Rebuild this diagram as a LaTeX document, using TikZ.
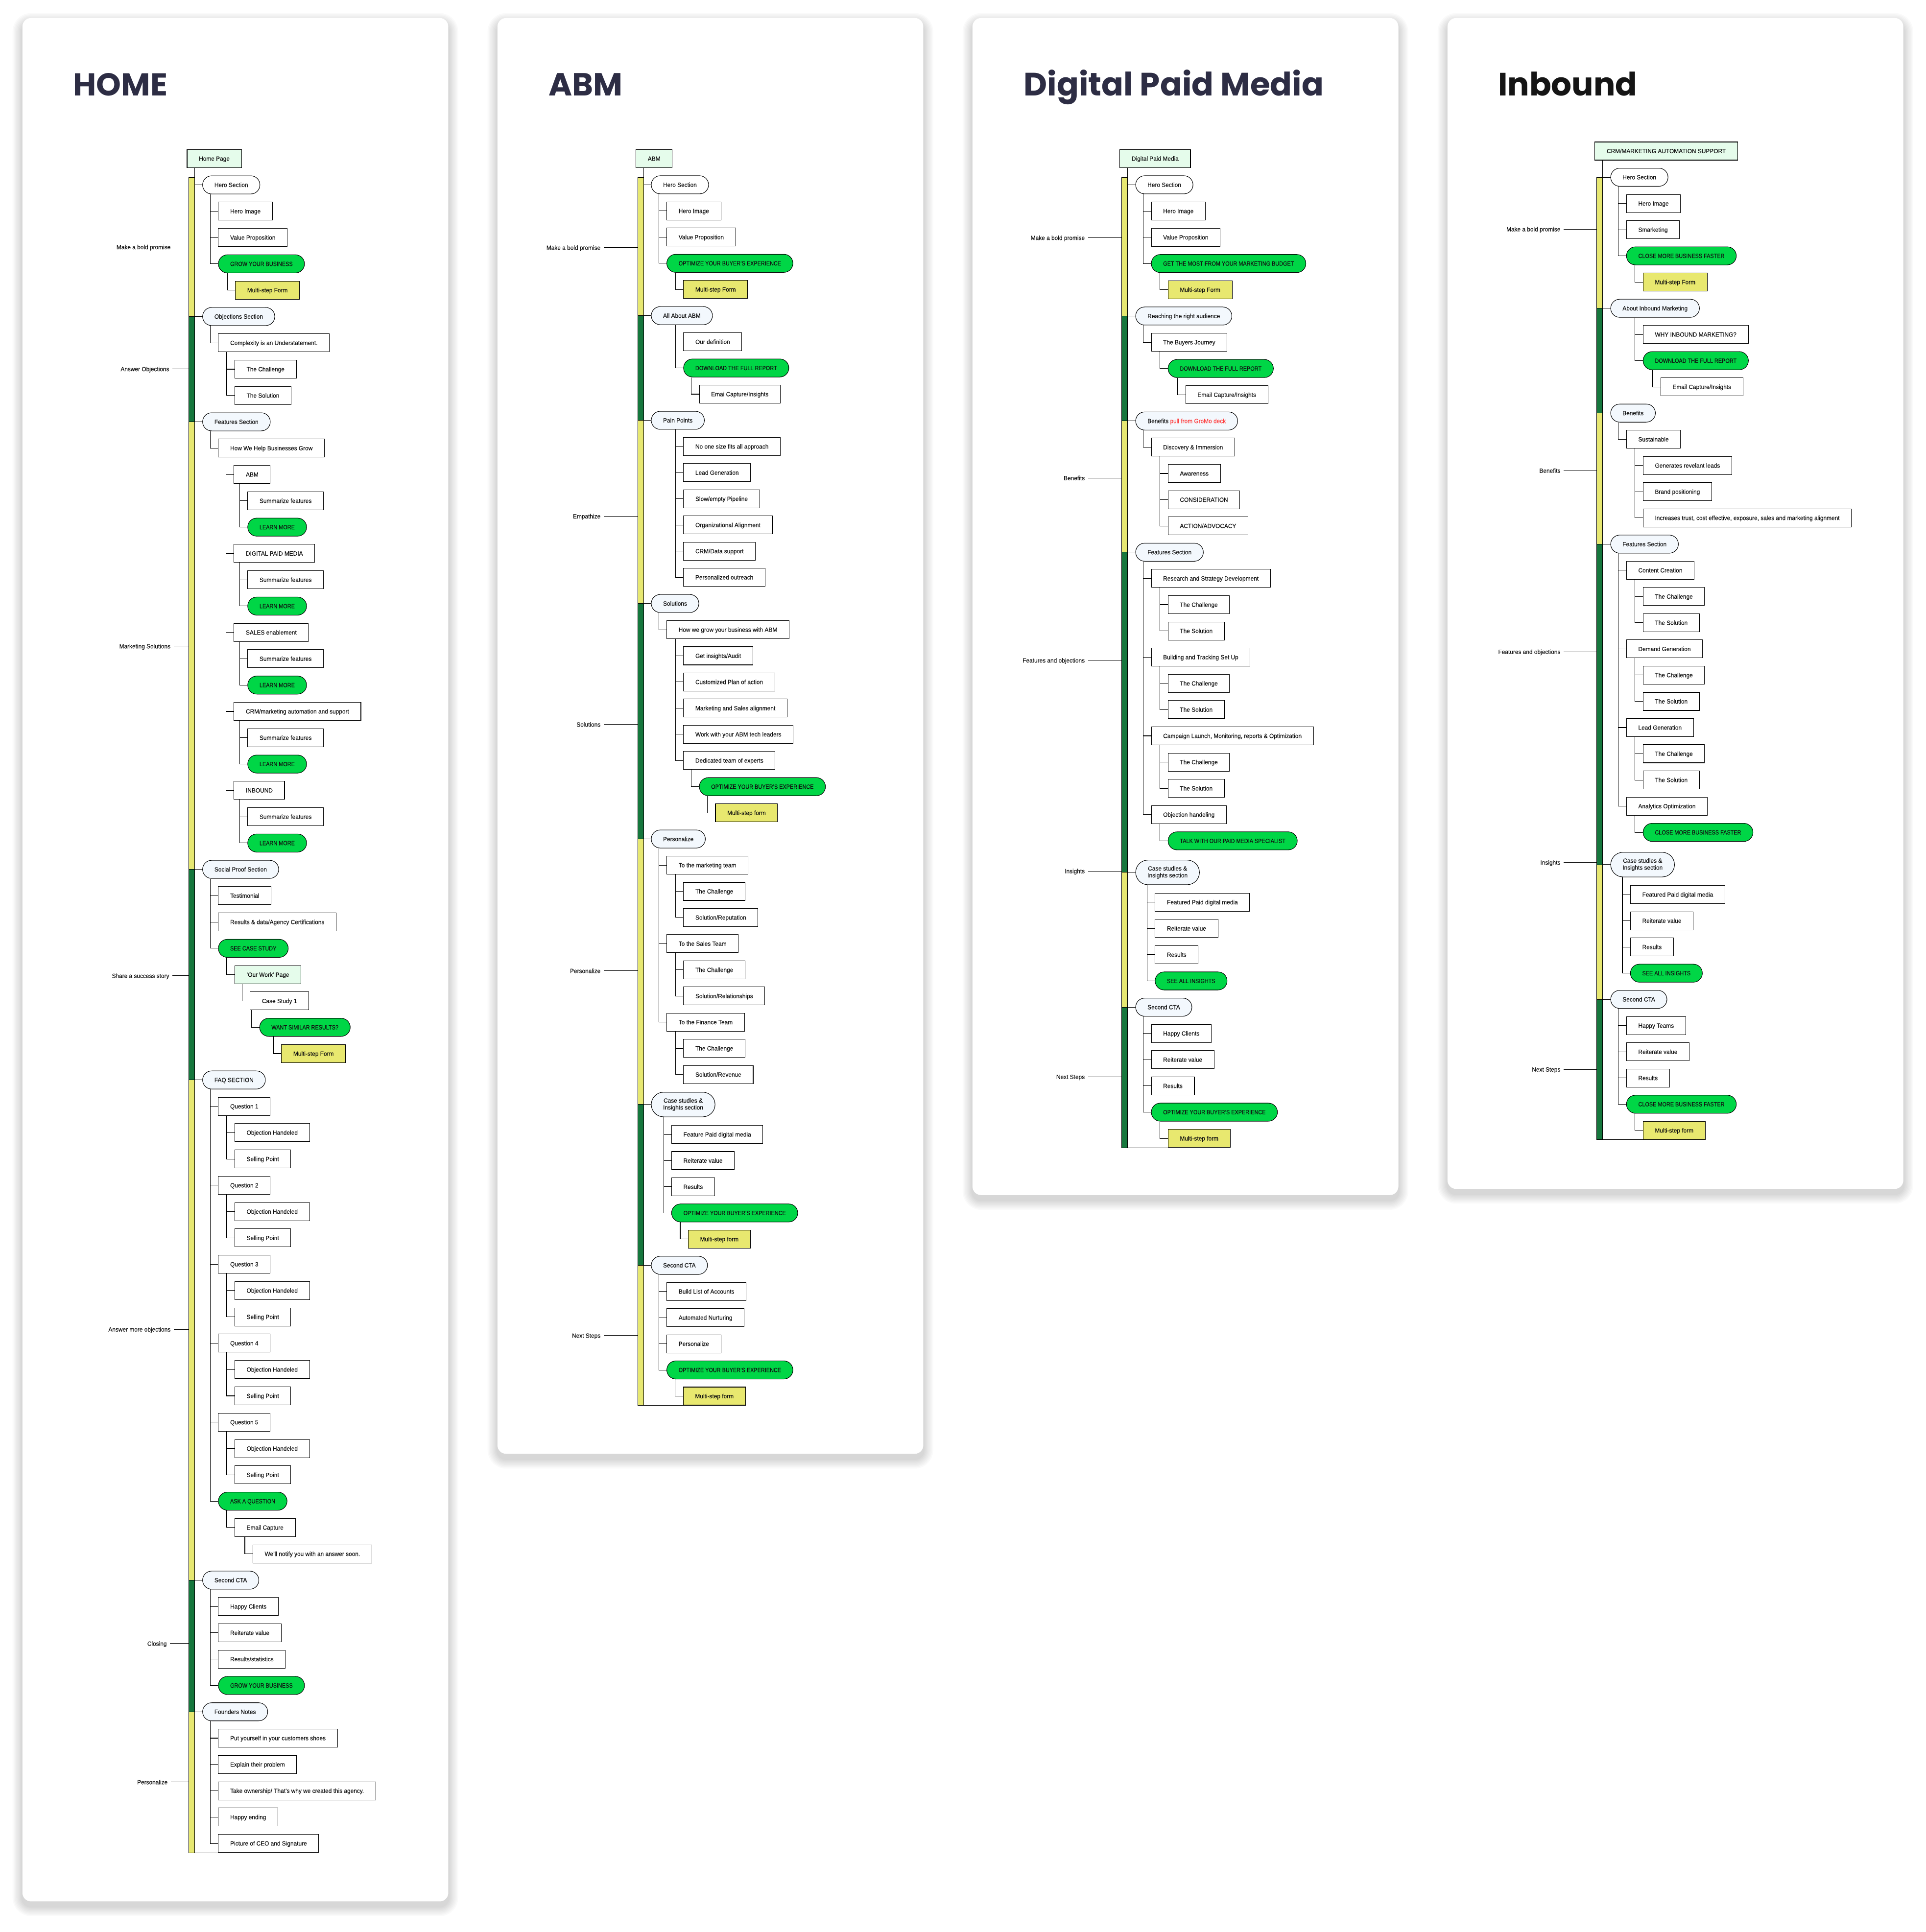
\documentclass[tikz,border=0pt]{standalone}
\usepackage{fontspec}
\usepackage{graphicx}
\usetikzlibrary{calc}
\newfontfamily\nodefont{Liberation Sans}[FakeStretch=0.945,FakeBold=0.25]
\newfontfamily\ctafont{Liberation Sans}[FakeStretch=0.865,FakeBold=0.25]
\newfontfamily\titlefont{Poppins}
\newcommand\nodesize{\nodefont\fontsize{5}{5.6}\selectfont}
\newcommand\ctasize{\ctafont\fontsize{5}{5.6}\selectfont}
\definecolor{navy}{HTML}{2D2D44}
\definecolor{ink}{HTML}{151515}
\definecolor{barY}{HTML}{E7E872}
\definecolor{barG}{HTML}{16773D}
\definecolor{ctaG}{HTML}{00D646}
\definecolor{formY}{HTML}{E8E86F}
\definecolor{mint}{HTML}{E5FCEB}
\definecolor{secF}{HTML}{F3F8FD}
\definecolor{redT}{HTML}{FF3B3B}
\definecolor{txt}{HTML}{111111}
\tikzset{
  ln/.style={draw=black, line width=0.42pt},
  nb/.style={draw=black, line width=0.42pt, font=\nodesize, text=txt, inner xsep=9.6pt, inner ysep=0pt, minimum height=14.7pt, text height=3.6pt, text depth=0.1pt, anchor=west},
  box/.style={nb, fill=white},
  rootbox/.style={nb, fill=mint},
  mintbox/.style={nb, fill=mint},
  secw/.style={nb, fill=white, rounded corners=7.35pt},
  sec/.style={nb, fill=secF, rounded corners=7.35pt},
  sectwo/.style={draw=black, line width=0.42pt, font=\nodesize, text=txt, fill=secF, rounded corners=10pt, minimum height=20pt, inner xsep=9.6pt, inner ysep=0pt, align=center, anchor=west},
  cta/.style={nb, font=\ctasize, fill=ctaG, rounded corners=7.35pt},
  form/.style={nb, fill=formY},
  lab/.style={font=\nodesize, text=txt, inner sep=0pt, text height=3.6pt, text depth=0pt, anchor=east},
  bs/.style={draw=black, line width=0.35pt},
  shade/.style={fill=black, opacity=0.02},
  ttl/.style={anchor=base west, inner sep=0pt},
}
\newcommand\N[5]{\node[#1] (#2) at (#3,{\Y+(#4)*\P}) {#5};}
\newcommand\C[2]{\draw[ln] let \p1=(#1.south west),\p2=(#2.west) in ({\x2-6.3pt},\y1) |- (#2.west);}
\newcommand\Stub[2]{\draw[ln] (#1 |- #2.west) -- (#2.west);}
\newcommand\Lab[5]{\node[lab] (#1) at (#2,#3) {#4}; \draw[ln] (#1.east) ++(2.5pt,0) -- (#5 |- #1.east);}
\newcommand\Card[4]{%
  \foreach \k in {1,...,8}{%
    \pgfmathsetmacro\rc{7+\k}%
    \fill[shade, rounded corners=\rc pt] ({#1-\k},{#2-\k+4}) rectangle ({#3+\k},{#4+\k+4});}
  \fill[white, rounded corners=7pt] (#1,#2) rectangle (#3,#4);}
\begin{document}
\begin{tikzpicture}[x=1pt,y=-1pt]
\useasboundingbox (0,0) rectangle (1563,1568.17);
\fill[white] (0,0) rectangle (1563,1568.17);
% cards
\Card{18.2}{14.6}{363.8}{1543.3}
\Card{403.7}{14.6}{749.3}{1180}
\Card{789.2}{14.6}{1134.8}{970}
\Card{1174.7}{14.6}{1544.6}{965}
% titles
\node[ttl, text=navy] (tH) at (59.3,77.5) {\resizebox{76.4pt}{!}{\titlefont\bfseries\fontsize{27}{30}\selectfont HOME}};
\node[ttl, text=navy] (tA) at (445,77.5) {\resizebox{60pt}{!}{\titlefont\bfseries\fontsize{27}{30}\selectfont ABM}};
\node[ttl, text=navy] (tD) at (830.7,77.5) {\resizebox{243.3pt}{!}{\titlefont\bfseries\fontsize{27}{30}\selectfont Digital Paid Media}};
\node[ttl, text=ink] (tI) at (1215.5,77.5) {\resizebox{113pt}{!}{\titlefont\bfseries\fontsize{27}{30}\selectfont Inbound}};

%================ HOME
\def\Y{128.7}\def\P{21.368}
\coordinate (hT) at (158.0,0);
\coordinate (hB) at (153.1,0);
\N{rootbox}{h0}{151.6}{0}{Home Page}
\N{secw}{h1}{164.2}{1}{Hero Section}
\N{box}{h2}{177.0}{2}{Hero Image}
\N{box}{h3}{177.0}{3}{Value Proposition}
\N{cta}{h4}{177.0}{4}{GROW YOUR BUSINESS}
\N{form}{h5}{190.8}{5}{Multi-step Form}
\N{sec}{h6}{164.2}{6}{Objections Section}
\N{box}{h7}{177.0}{7}{Complexity is an Understatement.}
\N{box}{h8}{190.3}{8}{The Challenge}
\N{box}{h9}{190.3}{9}{The Solution}
\N{sec}{h10}{164.2}{10}{Features Section}
\N{box}{h11}{177.0}{11}{How We Help Businesses Grow}
\N{box}{h12}{189.7}{12}{ABM}
\N{box}{h13}{200.8}{13}{Summarize features}
\N{cta}{h14}{200.8}{14}{LEARN MORE}
\N{box}{h15}{189.7}{15}{DIGITAL PAID MEDIA}
\N{box}{h16}{200.8}{16}{Summarize features}
\N{cta}{h17}{200.8}{17}{LEARN MORE}
\N{box}{h18}{189.7}{18}{SALES enablement}
\N{box}{h19}{200.8}{19}{Summarize features}
\N{cta}{h20}{200.8}{20}{LEARN MORE}
\N{box}{h21}{189.7}{21}{CRM/marketing automation and support}
\N{box}{h22}{200.8}{22}{Summarize features}
\N{cta}{h23}{200.8}{23}{LEARN MORE}
\N{box}{h24}{189.7}{24}{INBOUND}
\N{box}{h25}{200.8}{25}{Summarize features}
\N{cta}{h26}{200.8}{26}{LEARN MORE}
\N{sec}{h27}{164.2}{27}{Social Proof Section}
\N{box}{h28}{177.0}{28}{Testimonial}
\N{box}{h29}{177.0}{29}{Results \& data/Agency Certifications}
\N{cta}{h30}{177.0}{30}{SEE CASE STUDY}
\N{mintbox}{h31}{190.3}{31}{‘Our Work’ Page}
\N{box}{h32}{202.8}{32}{Case Study 1}
\N{cta}{h33}{210.5}{33}{WANT SIMILAR RESULTS?}
\N{form}{h34}{228.2}{34}{Multi-step Form}
\N{sec}{h35}{164.2}{35}{FAQ SECTION}
\N{box}{h36}{177.0}{36}{Question 1}
\N{box}{h37}{190.3}{37}{Objection Handeled}
\N{box}{h38}{190.3}{38}{Selling Point}
\N{box}{h39}{177.0}{39}{Question 2}
\N{box}{h40}{190.3}{40}{Objection Handeled}
\N{box}{h41}{190.3}{41}{Selling Point}
\N{box}{h42}{177.0}{42}{Question 3}
\N{box}{h43}{190.3}{43}{Objection Handeled}
\N{box}{h44}{190.3}{44}{Selling Point}
\N{box}{h45}{177.0}{45}{Question 4}
\N{box}{h46}{190.3}{46}{Objection Handeled}
\N{box}{h47}{190.3}{47}{Selling Point}
\N{box}{h48}{177.0}{48}{Question 5}
\N{box}{h49}{190.3}{49}{Objection Handeled}
\N{box}{h50}{190.3}{50}{Selling Point}
\N{cta}{h51}{177.0}{51}{ASK A QUESTION}
\N{box}{h52}{190.3}{52}{Email Capture}
\N{box}{h53}{205.0}{53}{We’ll notify you with an answer soon.}
\N{sec}{h54}{164.2}{54}{Second CTA}
\N{box}{h55}{177.0}{55}{Happy Clients}
\N{box}{h56}{177.0}{56}{Reiterate value}
\N{box}{h57}{177.0}{57}{Results/statistics}
\N{cta}{h58}{177.0}{58}{GROW YOUR BUSINESS}
\N{sec}{h59}{164.2}{59}{Founders Notes}
\N{box}{h60}{177.0}{60}{Put yourself in your customers shoes}
\N{box}{h61}{177.0}{61}{Explain their problem}
\N{box}{h62}{177.0}{62}{Take ownership/ That’s why we created this agency.}
\N{box}{h63}{177.0}{63}{Happy ending}
\N{box}{h64}{177.0}{64}{Picture of CEO and Signature}
\filldraw[bs,fill=barY] (153.1,144.0) rectangle (hT |- h6.west);
\filldraw[bs,fill=barG] (hB |- h6.west) rectangle (hT |- h10.west);
\filldraw[bs,fill=barY] (hB |- h10.west) rectangle (hT |- h27.west);
\filldraw[bs,fill=barG] (hB |- h27.west) rectangle (hT |- h35.west);
\filldraw[bs,fill=barY] (hB |- h35.west) rectangle (hT |- h54.west);
\filldraw[bs,fill=barG] (hB |- h54.west) rectangle (hT |- h59.west);
\filldraw[bs,fill=barY] (hB |- h59.west) rectangle (hT |- h64.south);
\draw[ln] (hT |- h0.south) -- (hT |- h64.south) -- (h64.south west);
\foreach \s in {h1,h6,h10,h27,h35,h54,h59} {\Stub{hT}{\s}}
\foreach \pa/\ch in {h1/h2,h1/h3,h1/h4,h4/h5,h6/h7,h7/h8,h7/h9,h10/h11,h11/h12,h12/h13,h12/h14,h11/h15,h15/h16,h15/h17,h11/h18,h18/h19,h18/h20,h11/h21,h21/h22,h21/h23,h11/h24,h24/h25,h24/h26,h27/h28,h27/h29,h27/h30,h30/h31,h31/h32,h32/h33,h33/h34,h35/h36,h36/h37,h36/h38,h35/h39,h39/h40,h39/h41,h35/h42,h42/h43,h42/h44,h35/h45,h45/h46,h45/h47,h35/h48,h48/h49,h48/h50,h35/h51,h51/h52,h52/h53,h54/h55,h54/h56,h54/h57,h54/h58,h59/h60,h59/h61,h59/h62,h59/h63,h59/h64} {\C{\pa}{\ch}}
\Lab{hl1}{138.6}{200.5}{Make a bold promise}{hB}
\Lab{hl2}{137.5}{299.5}{Answer Objections}{hB}
\Lab{hl3}{138.5}{524.5}{Marketing Solutions}{hB}
\Lab{hl4}{137.5}{792}{Share a success story}{hB}
\Lab{hl5}{138.6}{1079}{Answer more objections}{hB}
\Lab{hl6}{135.5}{1334}{Closing}{hB}
\Lab{hl7}{136.2}{1446.5}{Personalize}{hB}

%================ ABM
\def\Y{128.76}\def\P{21.24}
\coordinate (aT) at (522.3,0);
\coordinate (aB) at (517.6,0);
\N{rootbox}{a0}{515.9}{0}{ABM}
\N{secw}{a1}{528.3}{1}{Hero Section}
\N{box}{a2}{540.9}{2}{Hero Image}
\N{box}{a3}{540.9}{3}{Value Proposition}
\N{cta}{a4}{540.9}{4}{OPTIMIZE YOUR BUYER’S EXPERIENCE}
\N{form}{a5}{554.5}{5}{Multi-step Form}
\N{sec}{a6}{528.3}{6}{All About ABM}
\N{box}{a7}{554.5}{7}{Our definition}
\N{cta}{a8}{554.5}{8}{DOWNLOAD THE FULL REPORT}
\N{box}{a9}{567.3}{9}{Emai Capture/Insights}
\N{sec}{a10}{528.3}{10}{Pain Points}
\N{box}{a11}{554.5}{11}{No one size fits all approach}
\N{box}{a12}{554.5}{12}{Lead Generation}
\N{box}{a13}{554.5}{13}{Slow/empty Pipeline}
\N{box}{a14}{554.5}{14}{Organizational Alignment}
\N{box}{a15}{554.5}{15}{CRM/Data support}
\N{box}{a16}{554.5}{16}{Personalized outreach}
\N{sec}{a17}{528.3}{17}{Solutions}
\N{box}{a18}{540.9}{18}{How we grow your business with ABM}
\N{box}{a19}{554.5}{19}{Get insights/Audit}
\N{box}{a20}{554.5}{20}{Customized Plan of action}
\N{box}{a21}{554.5}{21}{Marketing and Sales alignment}
\N{box}{a22}{554.5}{22}{Work with your ABM tech leaders}
\N{box}{a23}{554.5}{23}{Dedicated team of experts}
\N{cta}{a24}{567.3}{24}{OPTIMIZE YOUR BUYER’S EXPERIENCE}
\N{form}{a25}{580.4}{25}{Multi-step form}
\N{sec}{a26}{528.3}{26}{Personalize}
\N{box}{a27}{540.9}{27}{To the marketing team}
\N{box}{a28}{554.5}{28}{The Challenge}
\N{box}{a29}{554.5}{29}{Solution/Reputation}
\N{box}{a30}{540.9}{30}{To the Sales Team}
\N{box}{a31}{554.5}{31}{The Challenge}
\N{box}{a32}{554.5}{32}{Solution/Relationships}
\N{box}{a33}{540.9}{33}{To the Finance Team}
\N{box}{a34}{554.5}{34}{The Challenge}
\N{box}{a35}{554.5}{35}{Solution/Revenue}
\def\Y{131.86}
\N{sectwo}{a36}{528.3}{36}{Case studies \&\\Insights section}
\def\Y{134.92}
\N{box}{a37}{544.8}{37}{Feature Paid digital media}
\N{box}{a38}{544.8}{38}{Reiterate value}
\N{box}{a39}{544.8}{39}{Results}
\N{cta}{a40}{544.8}{40}{OPTIMIZE YOUR BUYER’S EXPERIENCE}
\N{form}{a41}{558.3}{41}{Multi-step form}
\N{sec}{a42}{528.3}{42}{Second CTA}
\N{box}{a43}{540.9}{43}{Build List of Accounts}
\N{box}{a44}{540.9}{44}{Automated Nurturing}
\N{box}{a45}{540.9}{45}{Personalize}
\N{cta}{a46}{540.9}{46}{OPTIMIZE YOUR BUYER’S EXPERIENCE}
\N{form}{a47}{554.3}{47}{Multi-step form}
\filldraw[bs,fill=barY] (517.6,144.0) rectangle (aT |- a6.west);
\filldraw[bs,fill=barG] (aB |- a6.west) rectangle (aT |- a10.west);
\filldraw[bs,fill=barY] (aB |- a10.west) rectangle (aT |- a17.west);
\filldraw[bs,fill=barG] (aB |- a17.west) rectangle (aT |- a26.west);
\filldraw[bs,fill=barY] (aB |- a26.west) rectangle (aT |- a36.west);
\filldraw[bs,fill=barG] (aB |- a36.west) rectangle (aT |- a42.west);
\filldraw[bs,fill=barY] (aB |- a42.west) rectangle (aT |- a47.south);
\draw[ln] (aT |- a0.south) -- (aT |- a47.south) -- (a47.south west);
\foreach \s in {a1,a6,a10,a17,a26,a36,a42} {\Stub{aT}{\s}}
\foreach \pa/\ch in {a1/a2,a1/a3,a1/a4,a4/a5,a6/a7,a6/a8,a8/a9,a10/a11,a10/a12,a10/a13,a10/a14,a10/a15,a10/a16,a17/a18,a18/a19,a18/a20,a18/a21,a18/a22,a18/a23,a23/a24,a24/a25,a26/a27,a27/a28,a27/a29,a26/a30,a30/a31,a30/a32,a26/a33,a33/a34,a33/a35,a36/a37,a36/a38,a36/a39,a36/a40,a40/a41,a42/a43,a42/a44,a42/a45,a42/a46,a46/a47} {\C{\pa}{\ch}}
\Lab{al1}{487.5}{201}{Make a bold promise}{aB}
\Lab{al2}{487.5}{419}{Empathize}{aB}
\Lab{al3}{487.5}{588}{Solutions}{aB}
\Lab{al4}{487.5}{788}{Personalize}{aB}
\Lab{al5}{487.5}{1084}{Next Steps}{aB}

%================ DIGITAL PAID MEDIA
\def\Y{128.7}\def\P{21.3}
\coordinate (dT) at (915.0,0);
\coordinate (dB) at (910.3,0);
\N{rootbox}{d0}{908.6}{0}{Digital Paid Media}
\N{secw}{d1}{921.4}{1}{Hero Section}
\N{box}{d2}{934.1}{2}{Hero Image}
\N{box}{d3}{934.1}{3}{Value Proposition}
\N{cta}{d4}{934.1}{4}{GET THE MOST FROM YOUR MARKETING BUDGET}
\N{form}{d5}{947.7}{5}{Multi-step Form}
\N{sec}{d6}{921.4}{6}{Reaching the right audience}
\N{box}{d7}{934.1}{7}{The Buyers Journey}
\N{cta}{d8}{947.7}{8}{DOWNLOAD THE FULL REPORT}
\N{box}{d9}{962.0}{9}{Email Capture/Insights}
\N{sec}{d10}{921.4}{10}{Benefits \textcolor{redT}{pull from GroMo deck}}
\N{box}{d11}{934.1}{11}{Discovery \& Immersion}
\N{box}{d12}{947.7}{12}{Awareness}
\N{box}{d13}{947.7}{13}{CONSIDERATION}
\N{box}{d14}{947.7}{14}{ACTION/ADVOCACY}
\N{sec}{d15}{921.4}{15}{Features Section}
\N{box}{d16}{934.1}{16}{Research and Strategy Development}
\N{box}{d17}{947.7}{17}{The Challenge}
\N{box}{d18}{947.7}{18}{The Solution}
\N{box}{d19}{934.1}{19}{Building and Tracking Set Up}
\N{box}{d20}{947.7}{20}{The Challenge}
\N{box}{d21}{947.7}{21}{The Solution}
\N{box}{d22}{934.1}{22}{Campaign Launch, Monitoring, reports \& Optimization}
\N{box}{d23}{947.7}{23}{The Challenge}
\N{box}{d24}{947.7}{24}{The Solution}
\N{box}{d25}{934.1}{25}{Objection handeling}
\N{cta}{d26}{947.7}{26}{TALK WITH OUR PAID MEDIA SPECIALIST}
\def\Y{133.0}
\N{sectwo}{d27}{921.4}{27}{Case studies \&\\Insights section}
\def\Y{135.9}
\N{box}{d28}{937.2}{28}{Featured Paid digital media}
\N{box}{d29}{937.2}{29}{Reiterate value}
\N{box}{d30}{937.2}{30}{Results}
\N{cta}{d31}{937.2}{31}{SEE ALL INSIGHTS}
\N{sec}{d32}{921.4}{32}{Second CTA}
\N{box}{d33}{934.1}{33}{Happy Clients}
\N{box}{d34}{934.1}{34}{Reiterate value}
\N{box}{d35}{934.1}{35}{Results}
\N{cta}{d36}{934.1}{36}{OPTIMIZE YOUR BUYER’S EXPERIENCE}
\N{form}{d37}{947.7}{37}{Multi-step form}
\filldraw[bs,fill=barY] (910.3,144.0) rectangle (dT |- d6.west);
\filldraw[bs,fill=barG] (dB |- d6.west) rectangle (dT |- d10.west);
\filldraw[bs,fill=barY] (dB |- d10.west) rectangle (dT |- d15.west);
\filldraw[bs,fill=barG] (dB |- d15.west) rectangle (dT |- d27.west);
\filldraw[bs,fill=barY] (dB |- d27.west) rectangle (dT |- d32.west);
\filldraw[bs,fill=barG] (dB |- d32.west) rectangle (dT |- d37.south);
\draw[ln] (dT |- d0.south) -- (dT |- d37.south) -- (d37.south west);
\foreach \s in {d1,d6,d10,d15,d27,d32} {\Stub{dT}{\s}}
\foreach \pa/\ch in {d1/d2,d1/d3,d1/d4,d4/d5,d6/d7,d7/d8,d8/d9,d10/d11,d11/d12,d11/d13,d11/d14,d15/d16,d16/d17,d16/d18,d15/d19,d19/d20,d19/d21,d15/d22,d22/d23,d22/d24,d15/d25,d25/d26,d27/d28,d27/d29,d27/d30,d27/d31,d32/d33,d32/d34,d32/d35,d32/d36,d36/d37} {\C{\pa}{\ch}}
\Lab{dl1}{880.5}{193}{Make a bold promise}{dB}
\Lab{dl2}{880.5}{388}{Benefits}{dB}
\Lab{dl3}{880.5}{536}{Features and objections}{dB}
\Lab{dl4}{880.5}{707}{Insights}{dB}
\Lab{dl5}{880.5}{874}{Next Steps}{dB}

%================ INBOUND
\def\Y{122.6}\def\P{21.27}
\coordinate (iT) at (1300.5,0);
\coordinate (iB) at (1295.8,0);
\N{rootbox}{i0}{1294.1}{0}{CRM/MARKETING AUTOMATION SUPPORT}
\N{secw}{i1}{1306.9}{1}{Hero Section}
\N{box}{i2}{1319.7}{2}{Hero Image}
\N{box}{i3}{1319.7}{3}{Smarketing}
\N{cta}{i4}{1319.7}{4}{CLOSE MORE BUSINESS FASTER}
\N{form}{i5}{1333.2}{5}{Multi-step Form}
\N{sec}{i6}{1306.9}{6}{About Inbound Marketing}
\N{box}{i7}{1333.2}{7}{WHY INBOUND MARKETING?}
\N{cta}{i8}{1333.2}{8}{DOWNLOAD THE FULL REPORT}
\N{box}{i9}{1347.5}{9}{Email Capture/Insights}
\N{sec}{i10}{1306.9}{10}{Benefits}
\N{box}{i11}{1319.7}{11}{Sustainable}
\N{box}{i12}{1333.2}{12}{Generates revelant leads}
\N{box}{i13}{1333.2}{13}{Brand positioning}
\N{box}{i14}{1333.2}{14}{Increases trust, cost effective, exposure, sales and marketing alignment}
\N{sec}{i15}{1306.9}{15}{Features Section}
\N{box}{i16}{1319.7}{16}{Content Creation}
\N{box}{i17}{1333.2}{17}{The Challenge}
\N{box}{i18}{1333.2}{18}{The Solution}
\N{box}{i19}{1319.7}{19}{Demand Generation}
\N{box}{i20}{1333.2}{20}{The Challenge}
\N{box}{i21}{1333.2}{21}{The Solution}
\N{box}{i22}{1319.7}{22}{Lead Generation}
\N{box}{i23}{1333.2}{23}{The Challenge}
\N{box}{i24}{1333.2}{24}{The Solution}
\N{box}{i25}{1319.7}{25}{Analytics Optimization}
\N{cta}{i26}{1333.2}{26}{CLOSE MORE BUSINESS FASTER}
\def\Y{127.5}
\N{sectwo}{i27}{1306.9}{27}{Case studies \&\\Insights section}
\def\Y{130.54}
\N{box}{i28}{1322.9}{28}{Featured Paid digital media}
\N{box}{i29}{1322.9}{29}{Reiterate value}
\N{box}{i30}{1322.9}{30}{Results}
\N{cta}{i31}{1322.9}{31}{SEE ALL INSIGHTS}
\N{sec}{i32}{1306.9}{32}{Second CTA}
\N{box}{i33}{1319.7}{33}{Happy Teams}
\N{box}{i34}{1319.7}{34}{Reiterate value}
\N{box}{i35}{1319.7}{35}{Results}
\N{cta}{i36}{1319.7}{36}{CLOSE MORE BUSINESS FASTER}
\N{form}{i37}{1333.2}{37}{Multi-step form}
\filldraw[bs,fill=barY] (1295.8,143.9) rectangle (iT |- i6.west);
\filldraw[bs,fill=barG] (iB |- i6.west) rectangle (iT |- i10.west);
\filldraw[bs,fill=barY] (iB |- i10.west) rectangle (iT |- i15.west);
\filldraw[bs,fill=barG] (iB |- i15.west) rectangle (iT |- i27.west);
\filldraw[bs,fill=barY] (iB |- i27.west) rectangle (iT |- i32.west);
\filldraw[bs,fill=barG] (iB |- i32.west) rectangle (iT |- i37.south);
\draw[ln] (iT |- i0.south) -- (iT |- i37.south) -- (i37.south west);
\foreach \s in {i1,i6,i10,i15,i27,i32} {\Stub{iT}{\s}}
\foreach \pa/\ch in {i1/i2,i1/i3,i1/i4,i4/i5,i6/i7,i6/i8,i8/i9,i10/i11,i11/i12,i11/i13,i11/i14,i15/i16,i16/i17,i16/i18,i15/i19,i19/i20,i19/i21,i15/i22,i22/i23,i22/i24,i15/i25,i25/i26,i27/i28,i27/i29,i27/i30,i27/i31,i32/i33,i32/i34,i32/i35,i32/i36,i36/i37} {\C{\pa}{\ch}}
\Lab{il1}{1266.5}{186}{Make a bold promise}{iB}
\Lab{il2}{1266.5}{382}{Benefits}{iB}
\Lab{il3}{1266.5}{529}{Features and objections}{iB}
\Lab{il4}{1266.5}{700}{Insights}{iB}
\Lab{il5}{1266.5}{868}{Next Steps}{iB}
\end{tikzpicture}
\end{document}
